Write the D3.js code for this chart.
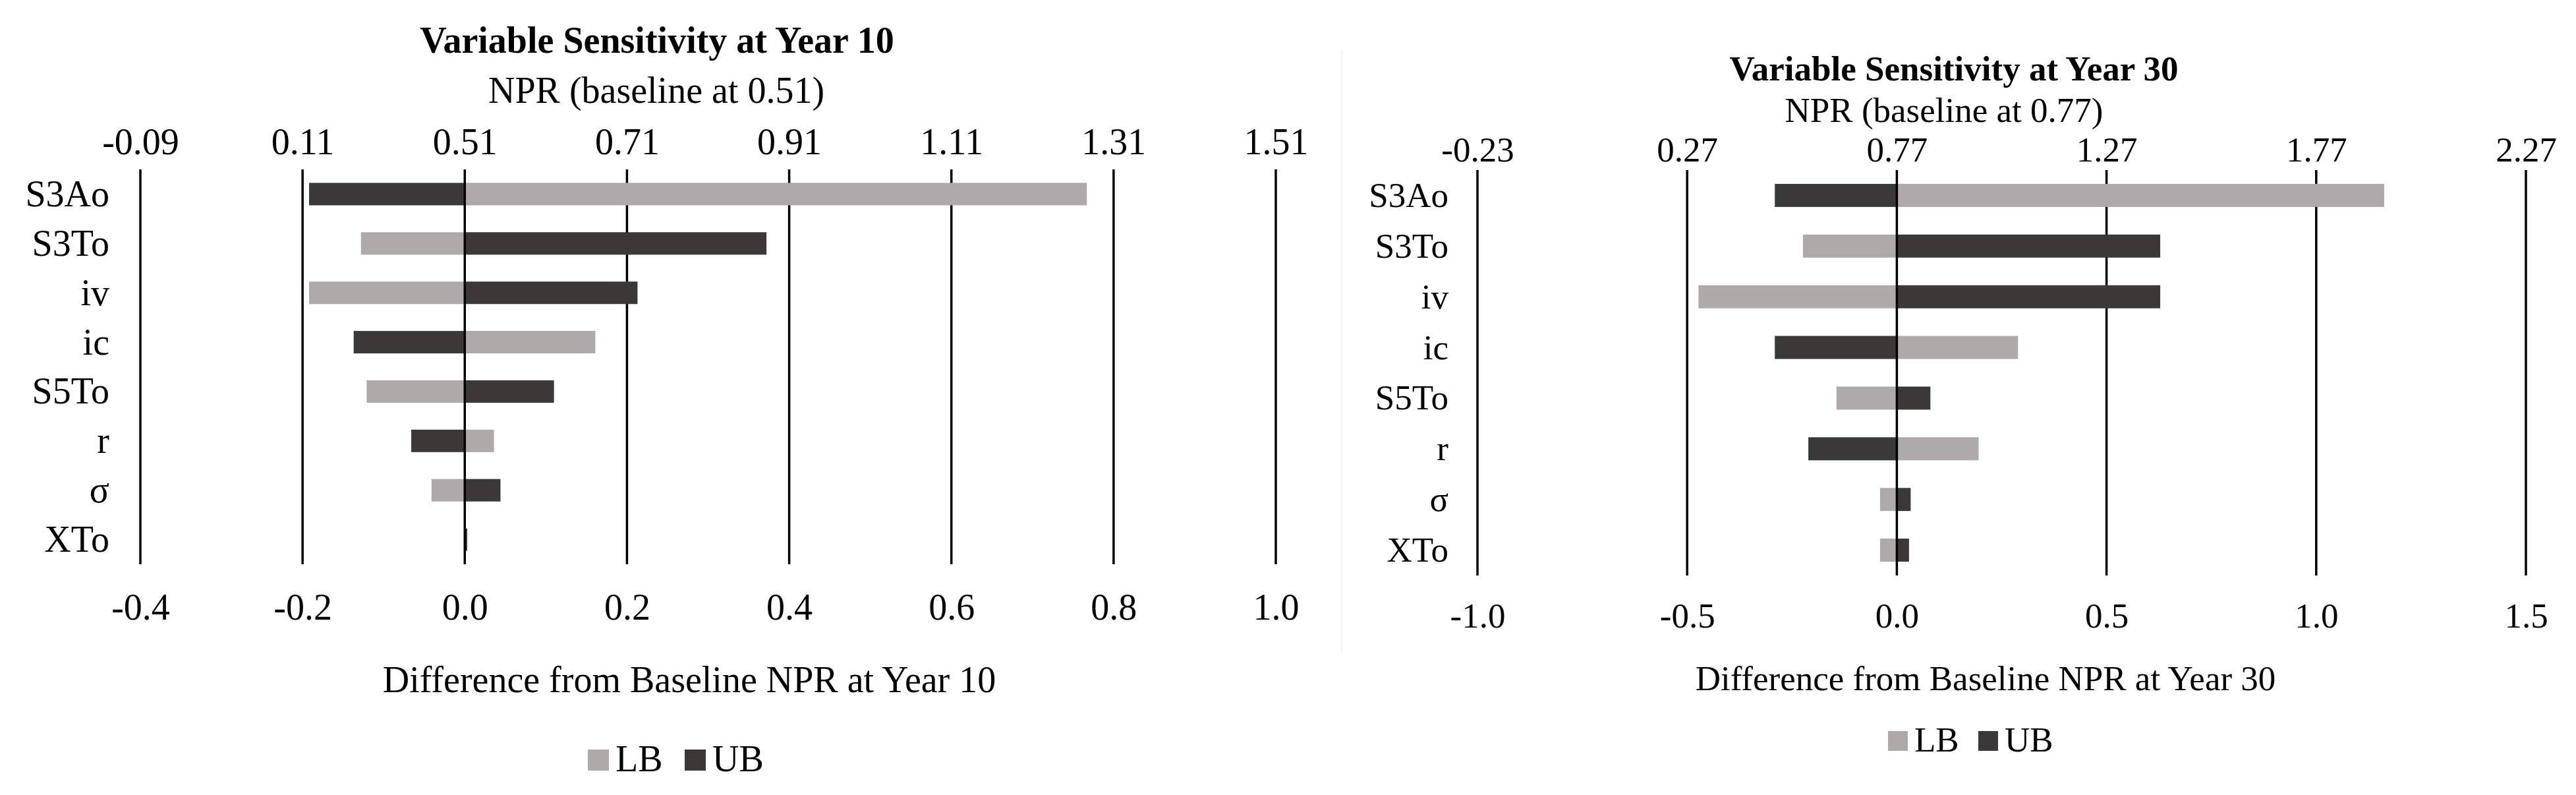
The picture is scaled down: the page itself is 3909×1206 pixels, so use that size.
<!DOCTYPE html>
<meta charset="utf-8">
<body style="margin:0;background:#fff;">
<svg width="3909" height="1206"></svg>
<script src="https://d3js.org/d3.v7.min.js"></script>
<script>

var categories = ["S3Ao", "S3To", "iv", "ic", "S5To", "r", "σ", "XTo"];

// difference from baseline NPR, year 10
var lb10 = [0.767, -0.128, -0.192, 0.161, -0.121, 0.036, -0.041, -0.001];
var ub10 = [-0.192, 0.372, 0.213, -0.137, 0.110, -0.066, 0.044, 0.003];
// year 30
var lb30 = [1.162, -0.224, -0.473, 0.289, -0.144, 0.195, -0.040, -0.040];
var ub30 = [-0.291, 0.628, 0.628, -0.291, 0.080, -0.211, 0.033, 0.029];

var diffTicks10 = [-0.4, -0.2, 0.0, 0.2, 0.4, 0.6, 0.8, 1.0];
var nprTicks10 = ["-0.09", "0.11", "0.51", "0.71", "0.91", "1.11", "1.31", "1.51"];
var diffTicks30 = [-1.0, -0.5, 0.0, 0.5, 1.0, 1.5];
var nprTicks30 = ["-0.23", "0.27", "0.77", "1.27", "1.77", "2.27"];

var LB_COLOR = "#adaaa9", UB_COLOR = "#3a3938";
var svg = d3.select("svg");

// faint edge of the second chart box
svg.append("line").attr("x1", 2036).attr("x2", 2036).attr("y1", 75).attr("y2", 990)
   .attr("stroke", "#f0f0f0").attr("stroke-width", 1.5);

function drawPanel(p) {
  var g = svg.append("g");
  var x = d3.scaleLinear().domain(p.domain).range(p.xRange);
  var y = d3.scaleBand().domain(categories).range(p.yRange);
  var barH = y.bandwidth() * 0.455;
  var font = "'Liberation Serif', 'Times New Roman', serif";

  g.append("text").attr("x", p.titleX).attr("y", p.titleY)
   .attr("text-anchor", "middle").attr("font-family", font).attr("font-weight", "bold")
   .attr("font-size", p.fs).text(p.title);
  g.append("text").attr("x", p.subX).attr("y", p.subY)
   .attr("text-anchor", "middle").attr("font-family", font)
   .attr("font-size", p.fs).text(p.sub);

  // grid lines (under bars)
  g.selectAll(".grid").data(p.ticks.filter(function(t) { return t !== 0; })).enter()
   .append("line")
   .attr("x1", function(d) { return x(d); }).attr("x2", function(d) { return x(d); })
   .attr("y1", p.yRange[0]).attr("y2", p.yRange[1])
   .attr("stroke", "#000").attr("stroke-width", 3.5);

  var rows = categories.map(function(c, i) { return {c: c, lb: p.lb[i], ub: p.ub[i]}; });
  g.selectAll(".lb").data(rows).enter().append("rect")
   .attr("x", function(d) { return x(Math.min(0, d.lb)); })
   .attr("width", function(d) { return Math.abs(x(d.lb) - x(0)); })
   .attr("y", function(d) { return y(d.c) + (y.bandwidth() - barH) / 2; })
   .attr("height", barH).attr("fill", LB_COLOR);
  g.selectAll(".ub").data(rows).enter().append("rect")
   .attr("x", function(d) { return x(Math.min(0, d.ub)); })
   .attr("width", function(d) { return Math.max(2, Math.abs(x(d.ub) - x(0))); })
   .attr("y", function(d) { return y(d.c) + (y.bandwidth() - barH) / 2; })
   .attr("height", barH).attr("fill", UB_COLOR);

  // zero line on top of bars
  g.append("line").attr("x1", x(0)).attr("x2", x(0))
   .attr("y1", p.yRange[0]).attr("y2", p.yRange[1])
   .attr("stroke", "#000").attr("stroke-width", 3.5);

  // category labels
  g.selectAll(".cat").data(categories).enter().append("text")
   .attr("x", p.catX).attr("y", function(d) { return y(d) + y.bandwidth() / 2; })
   .attr("dy", "0.33em").attr("text-anchor", "end")
   .attr("font-family", font).attr("font-size", p.fs).text(function(d) { return d; });

  // top axis: NPR
  var top = g.append("g").attr("transform", "translate(0," + p.topY + ")")
   .call(d3.axisTop(x).tickValues(p.ticks).tickSize(0).tickPadding(0)
         .tickFormat(function(d, i) { return p.nprLabels[i]; }));
  top.select(".domain").remove();
  top.selectAll("text").attr("font-family", font).attr("font-size", p.fs).attr("fill", "#000");

  // bottom axis: difference
  var bot = g.append("g").attr("transform", "translate(0," + p.botY + ")")
   .call(d3.axisBottom(x).tickValues(p.ticks).tickSize(0).tickPadding(0)
         .tickFormat(function(d) { return d.toFixed(1); }));
  bot.select(".domain").remove();
  bot.selectAll("text").attr("dy", "0").attr("y", 0)
     .attr("font-family", font).attr("font-size", p.fs).attr("fill", "#000");

  g.append("text").attr("x", p.axX).attr("y", p.axY)
   .attr("text-anchor", "middle").attr("font-family", font)
   .attr("font-size", p.fs).text(p.axisTitle);

  // legend
  var leg = [{k: "LB", c: LB_COLOR, x: p.legX[0]}, {k: "UB", c: UB_COLOR, x: p.legX[1]}];
  var lg = g.selectAll(".leg").data(leg).enter().append("g");
  lg.append("rect").attr("x", function(d) { return d.x; }).attr("y", p.legY - p.sw - 1)
    .attr("width", p.sw).attr("height", p.sw).attr("fill", function(d) { return d.c; });
  lg.append("text").attr("x", function(d) { return d.x + p.sw + 10; }).attr("y", p.legY)
    .attr("font-family", font).attr("font-size", p.fs).text(function(d) { return d.k; });
}

drawPanel({
  domain: [-0.4, 1.0], xRange: [213, 1936], yRange: [257, 856],
  ticks: diffTicks10, nprLabels: nprTicks10, lb: lb10, ub: ub10, fs: 56,
  title: "Variable Sensitivity at Year 10", titleX: 997, titleY: 80,
  sub: "NPR (baseline at 0.51)", subX: 996, subY: 156,
  topY: 234, botY: 940, catX: 166,
  axisTitle: "Difference from Baseline NPR at Year 10", axX: 1046, axY: 1050,
  legX: [892, 1039], legY: 1170, sw: 32
});

drawPanel({
  domain: [-1.0, 1.5], xRange: [2242, 3833], yRange: [258, 873],
  ticks: diffTicks30, nprLabels: nprTicks30, lb: lb30, ub: ub30, fs: 53,
  title: "Variable Sensitivity at Year 30", titleX: 2965, titleY: 122,
  sub: "NPR (baseline at 0.77)", subX: 2950, subY: 185,
  topY: 245, botY: 952, catX: 2198,
  axisTitle: "Difference from Baseline NPR at Year 30", axX: 3013, axY: 1047,
  legX: [2865, 3002], legY: 1140, sw: 30
});

</script>
</body>
